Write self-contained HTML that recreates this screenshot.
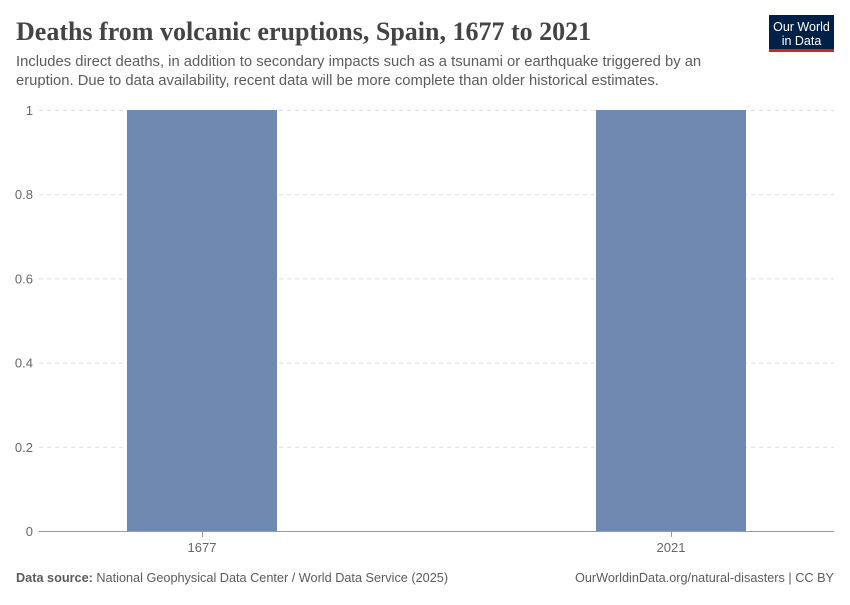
<!DOCTYPE html>
<html><head><meta charset="utf-8"><style>
body{margin:0;background:#fff;width:850px;height:600px;overflow:hidden;font-family:"Liberation Sans",sans-serif}
</style></head><body>
<svg id="chart" width="850" height="600" xmlns="http://www.w3.org/2000/svg">
<text x="16" y="40" font-family="Liberation Serif, serif" font-size="26" font-weight="bold" fill="#444">Deaths from volcanic eruptions, Spain, 1677 to 2021</text>
<text font-size="14.8" fill="#5b5b5b"><tspan x="16" y="66">Includes direct deaths, in addition to secondary impacts such as a tsunami or earthquake triggered by an</tspan><tspan x="16" y="85">eruption. Due to data availability, recent data will be more complete than older historical estimates.</tspan></text>
<g>
<rect x="769" y="15" width="65" height="35" fill="#002147"/>
<rect x="769" y="49" width="65" height="3" fill="#ce261e"/>
<text x="801.5" y="31" text-anchor="middle" font-size="12.5" fill="#fff">Our World</text>
<text x="801.5" y="45" text-anchor="middle" font-size="12.5" fill="#fff">in Data</text>
</g>
<g id="grid"></g>
<g id="bars"></g>
<line x1="39" x2="834" y1="531.5" y2="531.5" stroke="#999"/>
<g id="xt"></g>
<text x="16" y="582" font-size="12.7" fill="#5b5b5b"><tspan font-weight="bold">Data source:</tspan> National Geophysical Data Center / World Data Service (2025)</text>
<text x="834" y="582" text-anchor="end" font-size="12.7" fill="#5b5b5b">OurWorldinData.org/natural-disasters | CC BY</text>
</svg>
<script>
const categories=["1677","2021"];
const values=[1,1];
const yTicks=[0,0.2,0.4,0.6,0.8,1];
const yTickLabels=["0","0.2","0.4","0.6","0.8","1"];
const NS="http://www.w3.org/2000/svg";
const y0=531,y1=110,yMax=1;
function y(v){return y0-(v/yMax)*(y0-y1);}
function xc(i){return 202+i*469;}
const bw=150;
const grid=document.getElementById('grid');
yTicks.forEach((t,i)=>{
 if(t>0){const l=document.createElementNS(NS,'line');
 
 
 l.setAttribute('x1',39);l.setAttribute('x2',834);l.setAttribute('y1',y(t)+0.5);l.setAttribute('y2',y(t)+0.5);
 l.setAttribute('stroke','#ddd');l.setAttribute('stroke-dasharray','4,4');grid.appendChild(l);}
 const tx=document.createElementNS(NS,'text');
 
 
 tx.setAttribute('x',33);tx.setAttribute('y',y(t)+5);tx.setAttribute('text-anchor','end');
 tx.setAttribute('font-size','13');tx.setAttribute('fill','#666');tx.textContent=yTickLabels[i];grid.appendChild(tx);
});
const bars=document.getElementById('bars'),xt=document.getElementById('xt');
categories.forEach((c,i)=>{
 const r=document.createElementNS(NS,'rect');
 
 
 r.setAttribute('x',xc(i)-bw/2);r.setAttribute('width',bw);r.setAttribute('y',y(values[i]));r.setAttribute('height',y0-y(values[i]));
 r.setAttribute('fill','#6f89b0');bars.appendChild(r);
 const tk=document.createElementNS(NS,'line');
 
 
 tk.setAttribute('x1',xc(i)+0.5);tk.setAttribute('x2',xc(i)+0.5);tk.setAttribute('y1',532);tk.setAttribute('y2',537);tk.setAttribute('stroke','#999');xt.appendChild(tk);
 const t=document.createElementNS(NS,'text');
 
 
 t.setAttribute('x',xc(i));t.setAttribute('y',552);t.setAttribute('text-anchor','middle');t.setAttribute('font-size','13');t.setAttribute('fill','#666');
 t.textContent=c;xt.appendChild(t);
});
</script>
</body></html>
